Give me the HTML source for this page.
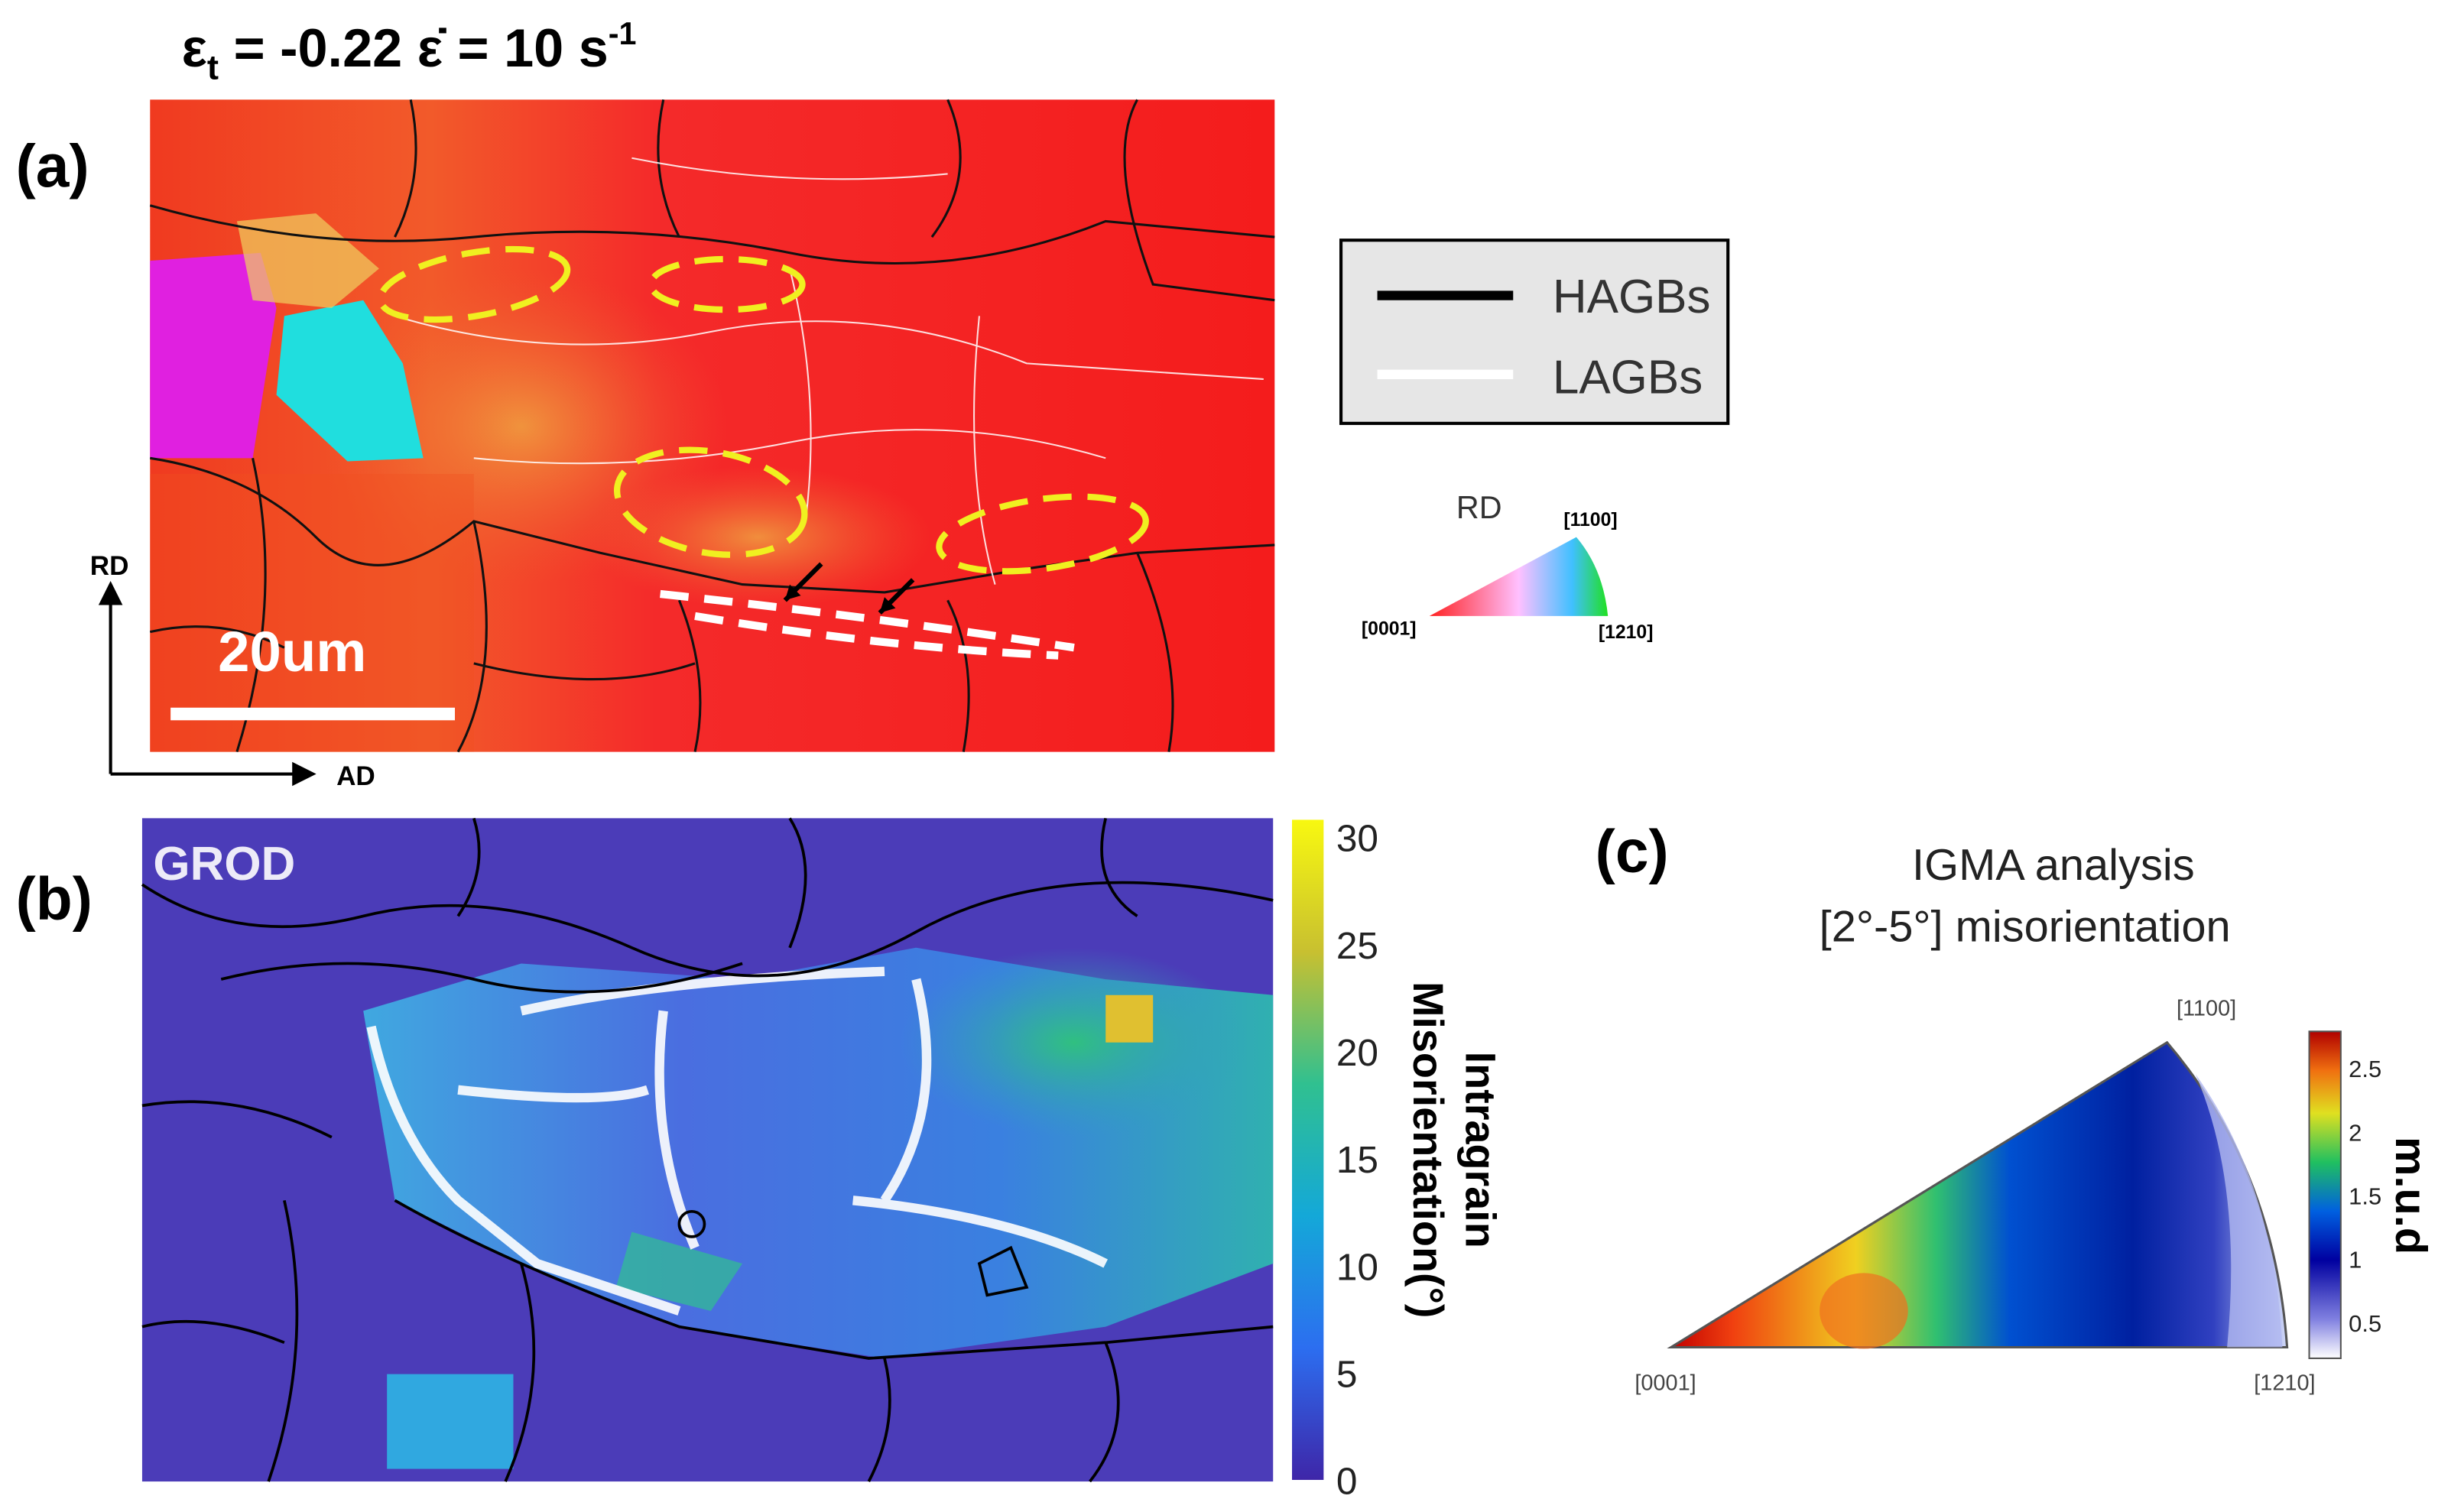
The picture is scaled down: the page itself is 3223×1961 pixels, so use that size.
<!DOCTYPE html>
<html><head><meta charset="utf-8"><style>
html,body{margin:0;padding:0;background:#fff;width:3223px;height:1961px;overflow:hidden}
svg{display:block}
text{font-family:"Liberation Sans",sans-serif}
</style></head><body>
<svg id="fig" width="3223" height="1961" viewBox="0 0 1560 949" xmlns="http://www.w3.org/2000/svg">
<defs>
<linearGradient id="redmap" x1="0" y1="0" x2="1" y2="0">
<stop offset="0" stop-color="#f03a20"/><stop offset="0.25" stop-color="#f25a2a"/><stop offset="0.45" stop-color="#f42a2a"/><stop offset="1" stop-color="#f41c1c"/></linearGradient>
<radialGradient id="yel" cx="0.5" cy="0.5" r="0.5"><stop offset="0" stop-color="#f0a040" stop-opacity="0.85"/><stop offset="1" stop-color="#f06030" stop-opacity="0"/></radialGradient>
<linearGradient id="bmap" x1="0" y1="0" x2="1" y2="0"><stop offset="0" stop-color="#40a8e0"/><stop offset="0.35" stop-color="#4a6ee0"/><stop offset="0.7" stop-color="#3a80e0"/><stop offset="1" stop-color="#30b0b0"/></linearGradient>
<radialGradient id="grn" cx="0.5" cy="0.5" r="0.5"><stop offset="0" stop-color="#30c080"/><stop offset="1" stop-color="#30a0c0" stop-opacity="0"/></radialGradient>
<linearGradient id="parula" x1="0" y1="1" x2="0" y2="0"><stop offset="0" stop-color="#3e26a8"/><stop offset="0.2" stop-color="#2c6ef0"/><stop offset="0.4" stop-color="#14a8d8"/><stop offset="0.6" stop-color="#30c090"/><stop offset="0.8" stop-color="#c8c030"/><stop offset="1" stop-color="#f8f810"/></linearGradient>
<linearGradient id="jet" x1="0" y1="1" x2="0" y2="0"><stop offset="0" stop-color="#ffffff"/><stop offset="0.12" stop-color="#8080e0"/><stop offset="0.3" stop-color="#0000a0"/><stop offset="0.45" stop-color="#0060e0"/><stop offset="0.6" stop-color="#20c060"/><stop offset="0.75" stop-color="#e0e020"/><stop offset="0.88" stop-color="#f07010"/><stop offset="1" stop-color="#b00000"/></linearGradient>
<linearGradient id="tri" x1="0" y1="0" x2="1" y2="0"><stop offset="0" stop-color="#c00000"/><stop offset="0.1" stop-color="#f04010"/><stop offset="0.3" stop-color="#f0d020"/><stop offset="0.43" stop-color="#30c070"/><stop offset="0.55" stop-color="#0050d0"/><stop offset="0.75" stop-color="#0020a0"/><stop offset="0.88" stop-color="#3040c0"/><stop offset="1" stop-color="#d0d8f8"/></linearGradient>
<linearGradient id="ipf" x1="0" y1="0" x2="1" y2="0"><stop offset="0" stop-color="#ff2020"/><stop offset="0.5" stop-color="#ffc0ff"/><stop offset="0.8" stop-color="#40c0ff"/><stop offset="1" stop-color="#20e020"/></linearGradient>
</defs>

<text x="115" y="42" font-size="34" font-weight="bold">ε<tspan font-size="22" dy="8">t</tspan><tspan dy="-8"> = -0.22 ε̇ = 10 s</tspan><tspan font-size="20" dy="-14">-1</tspan></text>

<text x="10" y="118" font-size="38" font-weight="bold">(a)</text>
<g>
<rect x="95" y="63" width="712" height="413" fill="url(#redmap)"/>
<ellipse cx="330" cy="270" rx="130" ry="100" fill="url(#yel)"/>
<ellipse cx="480" cy="340" rx="110" ry="45" fill="url(#yel)"/>
<path d="M95 165 L165 160 L175 195 L160 290 L95 290 Z" fill="#e020e0"/>
<path d="M180 200 L230 190 L255 230 L268 290 L220 292 L175 250 Z" fill="#20dede"/>
<path d="M150 140 L200 135 L240 170 L210 195 L160 190Z" fill="#f0d060" opacity="0.7"/>
<path d="M95 300 H300 V476 H95Z" fill="#f05020" opacity="0.35"/>
<g fill="none" stroke="#111" stroke-width="1.5">
<path d="M95 290 Q160 300 200 340 T300 330 L380 350 L470 370 L560 375 L650 360 L720 350 L807 345"/>
<path d="M160 290 Q180 380 150 476"/><path d="M300 330 Q320 420 290 476"/><path d="M430 380 Q450 430 440 476"/><path d="M600 380 Q620 420 610 476"/><path d="M720 350 Q750 420 740 476"/>
<path d="M95 130 Q200 160 300 150 T500 160 T700 140 L807 150"/>
<path d="M260 63 Q270 110 250 150"/><path d="M420 63 Q410 110 430 150"/><path d="M600 63 Q620 110 590 150"/><path d="M720 63 Q700 100 730 180 L807 190"/>
<path d="M95 400 Q140 390 180 410"/><path d="M300 420 Q380 440 440 420"/>
</g>
<g fill="none" stroke="#fff" stroke-width="1" opacity="0.85">
<path d="M250 200 Q350 230 450 210 T650 230 L800 240"/><path d="M300 290 Q400 300 500 280 T700 290"/><path d="M500 170 Q520 250 510 330"/><path d="M620 200 Q610 300 630 370"/><path d="M400 100 Q500 120 600 110"/>
</g>
<g fill="none" stroke="#f0f020" stroke-width="4" stroke-dasharray="18 10">
<ellipse cx="300" cy="180" rx="60" ry="20" transform="rotate(-10 300 180)"/>
<ellipse cx="460" cy="180" rx="48" ry="16"/>
<ellipse cx="450" cy="318" rx="60" ry="32" transform="rotate(10 450 318)"/>
<ellipse cx="660" cy="338" rx="66" ry="22" transform="rotate(-8 660 338)"/>
</g>
<path d="M418 376 Q550 390 680 410 M440 390 Q560 410 670 415" fill="none" stroke="#fff" stroke-width="5" stroke-dasharray="18 10"/>
<path d="M520 357 L497 380 M578 367 L557 388" stroke="#000" stroke-width="3"/>
<path d="M497 380 l3 -10 l7 7Z M557 388 l3 -10 l7 7Z" fill="#000"/>
<text x="138" y="425" font-size="36" font-weight="bold" fill="#fff">20um</text>
<rect x="108" y="448" width="180" height="8" fill="#fff"/>
</g>
<g stroke="#000" stroke-width="2" fill="#000">
<line x1="70" y1="490" x2="70" y2="380"/><path d="M64 382 L70 370 L76 382Z"/>
<line x1="70" y1="490" x2="188" y2="490"/><path d="M186 484 L198 490 L186 496Z"/>
</g>
<text x="57" y="364" font-size="17" font-weight="bold">RD</text>
<text x="213" y="497" font-size="17" font-weight="bold">AD</text>

<g>
<rect x="849" y="152" width="245" height="116" fill="#e6e6e6" stroke="#000" stroke-width="2"/>
<line x1="872" y1="187" x2="958" y2="187" stroke="#000" stroke-width="6"/>
<text x="983" y="198" font-size="30" fill="#333">HAGBs</text>
<line x1="872" y1="237" x2="958" y2="237" stroke="#fff" stroke-width="6"/>
<text x="983" y="249" font-size="30" fill="#333">LAGBs</text>
</g>
<g>
<text x="922" y="328" font-size="20" fill="#333">RD</text>
<path d="M905 390 L998 340 Q1015 360 1018 390 Z" fill="url(#ipf)"/>
<text x="990" y="333" font-size="12" font-weight="bold" font-family="Liberation Serif">[1100]</text>
<text x="862" y="402" font-size="12" font-weight="bold" font-family="Liberation Serif">[0001]</text>
<text x="1012" y="404" font-size="12" font-weight="bold" font-family="Liberation Serif">[1210]</text>
</g>

<text x="10" y="582" font-size="38" font-weight="bold">(b)</text>
<g>
<rect x="90" y="518" width="716" height="420" fill="#4b3cb8"/>
<path d="M230 640 L330 610 L470 620 L580 600 L700 620 L806 630 L806 800 L700 840 L560 860 L430 840 L330 800 L250 760 Z" fill="url(#bmap)"/>
<ellipse cx="680" cy="660" rx="110" ry="60" fill="url(#grn)"/>
<rect x="700" y="630" width="30" height="30" fill="#e0c030"/>
<path d="M400 780 L470 800 L450 830 L390 815Z" fill="#30c090" opacity="0.7"/>
<rect x="245" y="870" width="80" height="60" fill="#30a8e0"/>
<g fill="none" stroke="#fff" stroke-width="6" opacity="0.9">
<path d="M235 650 Q250 720 290 760 L340 800 L430 830"/><path d="M330 640 Q420 620 560 615"/><path d="M420 640 Q410 720 440 790"/><path d="M540 760 Q640 770 700 800"/><path d="M290 690 Q380 700 410 690"/><path d="M580 620 Q600 700 560 760"/>
</g>
<g fill="none" stroke="#000" stroke-width="1.8">
<path d="M90 560 Q150 600 230 580 T400 600 T580 590 T806 570"/>
<path d="M140 620 Q220 600 300 620 T470 610"/>
<path d="M250 760 Q320 800 430 840 L550 860 L700 850 L806 840"/>
<path d="M90 700 Q150 690 210 720"/><path d="M180 760 Q200 850 170 938"/><path d="M330 800 Q350 870 320 938"/><path d="M560 860 Q570 900 550 938"/><path d="M700 850 Q720 900 690 938"/>
<path d="M300 518 Q310 550 290 580"/><path d="M500 518 Q520 550 500 600"/><path d="M700 518 Q690 560 720 580"/>
<path d="M90 840 Q130 830 180 850"/><circle cx="438" cy="775" r="8"/><path d="M620 800 L640 790 L650 815 L625 820Z"/>
</g>
<text x="97" y="557" font-size="30" font-weight="bold" fill="#fff" opacity="0.9">GROD</text>
</g>
<g>
<rect x="818" y="519" width="20" height="418" fill="url(#parula)"/>
<g id="cbB" font-size="24" fill="#222"></g>
<text transform="translate(928 728) rotate(90)" text-anchor="middle" font-size="27" font-weight="bold">Intragrain</text>
<text transform="translate(895 728) rotate(90)" text-anchor="middle" font-size="27" font-weight="bold">Misorientation(°)</text>
</g>

<text x="1010" y="552" font-size="38" font-weight="bold">(c)</text>
<text x="1300" y="557" text-anchor="middle" font-size="28" fill="#222">IGMA analysis</text>
<text x="1282" y="596" text-anchor="middle" font-size="28" fill="#222">[2°-5°] misorientation</text>
<g>
<path d="M1058 853 L1372 660 Q1440 740 1448 853 Z" fill="url(#tri)" stroke="#555" stroke-width="1.5"/>
<ellipse cx="1180" cy="830" rx="28" ry="24" fill="#f07020" opacity="0.7"/>
<path d="M1390 680 Q1420 750 1410 853 L1445 853 Q1440 750 1390 680Z" fill="#b0b8f0" opacity="0.8"/>
<text x="1378" y="643" font-size="14" font-family="Liberation Serif" fill="#444">[1100]</text>
<text x="1035" y="880" font-size="14" font-family="Liberation Serif" fill="#444">[0001]</text>
<text x="1427" y="880" font-size="14" font-family="Liberation Serif" fill="#444">[1210]</text>
</g>
<g>
<rect x="1462" y="653" width="20" height="207" fill="url(#jet)" stroke="#555" stroke-width="1"/>
<g id="cbC" font-size="15" fill="#222"></g>
<text transform="translate(1517 757) rotate(90)" text-anchor="middle" font-size="28" font-weight="bold">m.u.d</text>
</g>
</svg>
<script>
const grodTicks=[0,5,10,15,20,25,30];
const mudTicks=[0.5,1,1.5,2,2.5];
const NS="http://www.w3.org/2000/svg";
function yB(v){return 937-(v/30)*(937-530);}
function yC(v){return 838-((v-0.5)/2)*(838-677);}
const gb=document.getElementById('cbB');
grodTicks.forEach(v=>{const t=document.createElementNS(NS,'text');


t.setAttribute('x',846);t.setAttribute('y',yB(v)+9);t.textContent=v;gb.appendChild(t);});
const gc=document.getElementById('cbC');
mudTicks.forEach(v=>{const t=document.createElementNS(NS,'text');


t.setAttribute('x',1487);t.setAttribute('y',yC(v)+5);t.textContent=v;gc.appendChild(t);});
</script>
</body></html>
